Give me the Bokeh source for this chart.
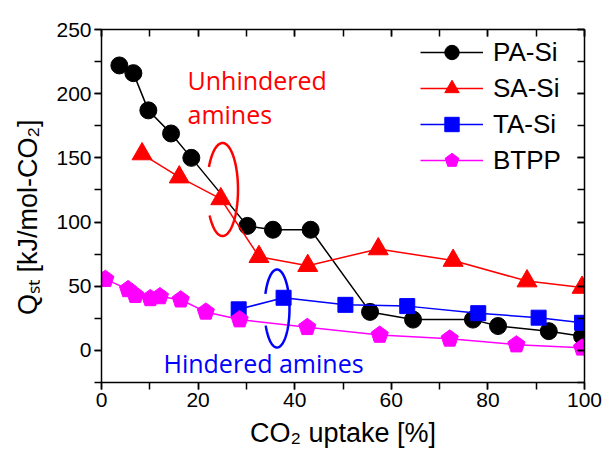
import numpy as np
from bokeh.plotting import figure
from bokeh.models import (Range1d, LinearAxis, SingleIntervalTicker, Label, Legend,
                          LegendItem, CustomJSTickFormatter)
from bokeh.embed import file_html
from bokeh.resources import INLINE

# CO2 uptake [%] vs. isosteric heat of adsorption Qst [kJ/mol-CO2]
pa_x = [3.7, 6.6, 9.7, 14.4, 18.6, 30.2, 35.5, 43.3, 55.6, 64.5, 76.9, 82.1, 92.6, 99.5]
pa_y = [222, 216, 187, 169, 150, 97, 94, 94, 30, 24, 24, 19, 15, 11]
sa_x = [8.4, 16.1, 24.7, 32.6, 42.7, 57.3, 72.8, 88.1, 99.5]
sa_y = [153, 135, 118, 73, 66, 79, 70, 54, 49]
ta_x = [28.4, 37.7, 50.5, 63.3, 78.0, 90.5, 99.5]
ta_y = [32, 41, 35.5, 34.5, 29, 25.5, 21.5]
bt_x = [0.8, 5.5, 7.0, 10.1, 12.1, 16.4, 21.6, 28.6, 42.6, 57.6, 72.1, 85.9, 99.5]
bt_y = [55.5, 47.5, 43, 40.5, 42, 39.5, 30, 24, 18, 12, 9, 4.5, 2]

series_names = ["PA-Si", "SA-Si", "TA-Si", "BTPP"]
x_title = "CO\u2082 uptake [%]"
y_title = "Q\u209b\u209c [kJ/mol-CO\u2082]\u00a0\u00a0\u00a0"

BLACK, RED, BLUE, MAGENTA = "#000000", "#FF0000", "#0000FF", "#FF00FF"

FONT = "Liberation Sans"
NOTE_FONT = "Open Sans"

W, H = 605, 454
LEFT, RIGHT, TOP, BOTTOM = 101, 21, 29, 72
X_MIN, X_MAX = 0, 100
Y_MIN, Y_MAX = -25, 250

p = figure(width=W, height=H, output_backend="svg", toolbar_location=None,
           x_range=Range1d(X_MIN, X_MAX), y_range=Range1d(Y_MIN, Y_MAX),
           min_border_left=LEFT, min_border_right=RIGHT,
           min_border_top=TOP, min_border_bottom=BOTTOM,
           x_axis_location=None, y_axis_location=None)
p.outline_line_color = None
p.background_fill_color = "white"
p.border_fill_color = "white"
p.xgrid.visible = False
p.ygrid.visible = False

# pixel -> data helpers for annotation placement
FW = W - LEFT - RIGHT
FH = H - TOP - BOTTOM


def dx(px):
    return X_MIN + (px - LEFT) / FW * (X_MAX - X_MIN)


def dy(py):
    return Y_MAX - (py - TOP) / FH * (Y_MAX - Y_MIN)


def make_axis(interval, labels, tick_in, tick_out, title=None):
    ax = LinearAxis(ticker=SingleIntervalTicker(interval=interval, num_minor_ticks=2),
                    axis_line_width=1.5, axis_line_color=BLACK,
                    major_tick_line_width=1.5, minor_tick_line_width=1.5,
                    major_tick_in=tick_in, major_tick_out=tick_out,
                    minor_tick_in=tick_in, minor_tick_out=tick_out,
                    major_label_text_font=FONT, major_label_text_color=BLACK,
                    major_label_text_font_size="21px")
    if labels:
        ax.major_label_standoff = 3
    else:
        ax.formatter = CustomJSTickFormatter(code="return ''")
        ax.major_label_standoff = 0
    if title:
        ax.axis_label = title
        ax.axis_label_text_font = FONT
        ax.axis_label_text_font_size = "27px"
        ax.axis_label_text_font_style = "normal"
        ax.axis_label_text_color = BLACK
    return ax


xb = make_axis(20, True, 0, 7, x_title)
xb.axis_label_standoff = 8
yl = make_axis(50, True, 0, 7, y_title)
yl.axis_label_standoff = 10
p.add_layout(xb, "below")
p.add_layout(yl, "left")
p.add_layout(make_axis(20, False, 7, 0), "above")
p.add_layout(make_axis(50, False, 7, 0), "right")

LW = 1.5
l_pa = p.line(pa_x, pa_y, line_color=BLACK, line_width=LW)
m_pa = p.scatter(pa_x, pa_y, marker="circle", size=17, fill_color=BLACK, line_color=BLACK)
l_sa = p.line(sa_x, sa_y, line_color=RED, line_width=LW)
m_sa = p.scatter(sa_x, sa_y, marker="triangle", size=20, fill_color=RED, line_color=RED)
l_ta = p.line(ta_x, ta_y, line_color=BLUE, line_width=LW)
m_ta = p.scatter(ta_x, ta_y, marker="square", size=15, fill_color=BLUE, line_color=BLUE)
l_bt = p.line(bt_x, bt_y, line_color=MAGENTA, line_width=LW)
m_bt = p.ngon(x=bt_x, y=bt_y, radius=9, radius_units="screen", n=5, angle=0,
              fill_color=MAGENTA, line_color=MAGENTA)


# open ellipses grouping the amine types
def ellipse_arc(cx, cy, rx, ry, t0, t1, n=160):
    t = np.radians(np.linspace(t0, t1, n))
    return cx + rx * np.cos(t), cy + ry * np.sin(t)


ex, ey = ellipse_arc(dx(222), dy(189), 15.5 / FW * 100, 46.5 / FH * 275, -146, 151)
p.line(ex, ey, line_color=RED, line_width=2.5)
ex, ey = ellipse_arc(dx(276.5), dy(308), 12.5 / FW * 100, 39 / FH * 275, -154, 158)
p.line(ex, ey, line_color=BLUE, line_width=2.5)

for txt, px, py, col in [("Unhindered", 187, 79, RED), ("amines", 187, 113, RED),
                         ("Hindered amines", 163, 362, BLUE)]:
    p.add_layout(Label(x=dx(px), y=dy(py), text=txt, text_font=NOTE_FONT,
                       text_font_size="25px", text_color=col,
                       text_align="left", text_baseline="alphabetic"))

legend = Legend(items=[LegendItem(label=series_names[0], renderers=[l_pa, m_pa]),
                       LegendItem(label=series_names[1], renderers=[l_sa, m_sa]),
                       LegendItem(label=series_names[2], renderers=[l_ta, m_ta]),
                       LegendItem(label=series_names[3], renderers=[l_bt, m_bt])],
                location=(319, 204), glyph_width=63, glyph_height=36,
                label_text_font=FONT, label_text_font_size="26px",
                label_text_color=BLACK, label_standoff=10, spacing=0,
                padding=0, margin=0, border_line_alpha=0, background_fill_alpha=0)
p.add_layout(legend)

open("out.html", "w").write(file_html(p, INLINE))
